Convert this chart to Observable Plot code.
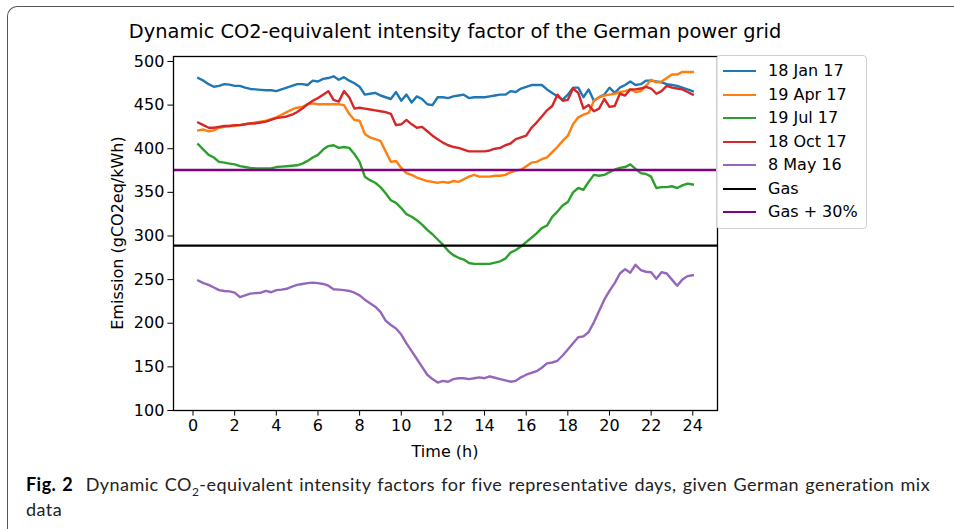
<!DOCTYPE html>
<html>
<head>
<meta charset="utf-8">
<script src="https://cdn.jsdelivr.net/npm/d3@7"></script>
<script src="https://cdn.jsdelivr.net/npm/@observablehq/plot@0.6"></script>
<style>
  html, body { margin: 0; padding: 0; background: white; }
  #wrap { position: relative; width: 954px; height: 529px; overflow: hidden; background: white; }
  #frame { position: absolute; left: 7px; top: 6px; width: 1200px; height: 800px;
           border-top: 1.5px solid #555; border-left: 1.5px solid #555; border-top-left-radius: 10px; }
  #chart { position: absolute; left: 0; top: 0; }
  .lbl { position: absolute; font-family: "DejaVu Sans", sans-serif; color: #000; white-space: nowrap; }
  #title { left: 55px; width: 800px; top: 21px; text-align: center; font-size: 19.4px; line-height: 22px; }
  #ylab { left: 118px; top: 233px; font-size: 16px; line-height: 18px; transform: translate(-50%, -50%) rotate(-90deg); }
  #xlab { left: 445px; top: 452px; font-size: 16px; line-height: 18px; transform: translate(-50%, -50%); }
  #legend { position: absolute; left: 716px; top: 55px; width: 149px; height: 172px;
            border: 1px solid #d0d0d0; border-radius: 4px; background: rgba(255,255,255,0.9); }
  .row { position: absolute; left: 0; height: 20px; width: 149px; }
  .sw { position: absolute; left: 6px; top: 9px; width: 33px; height: 2.4px; }
  .tx { position: absolute; left: 51px; top: 0; font-family: "DejaVu Sans", sans-serif; font-size: 16px; line-height: 20px; white-space: nowrap; }
  #caption { position: absolute; left: 26px; top: 472px; font-family: Lato, "Open Sans", sans-serif; font-size: 18px; line-height: 25px; color: #222; white-space: nowrap; letter-spacing: 0.45px; word-spacing: 1.2px; }
  #caption b { color: #000; }
</style>
</head>
<body>
<div id="wrap">
  <div id="frame"></div>
  <div id="chart"></div>
  <div id="title" class="lbl">Dynamic CO2-equivalent intensity factor of the German power grid</div>
  <div id="ylab" class="lbl">Emission (gCO2eq/kWh)</div>
  <div id="xlab" class="lbl">Time (h)</div>
  <div id="legend"></div>
  <div id="caption"><b>Fig. 2</b>&nbsp; Dynamic CO<sub style="font-size:12px;line-height:0">2</sub>-equivalent intensity factors for five representative days, given German generation mix<br>data</div>
</div>
<script>
// Time of day (h), quarter-hour resolution
const hours = [0.25,0.5,0.75,1,1.25,1.5,1.75,2,2.25,2.5,2.75,3,3.25,3.5,3.75,4,
  4.25,4.5,4.75,5,5.25,5.5,5.75,6,6.25,6.5,6.75,7,7.25,7.5,7.75,8,
  8.25,8.5,8.75,9,9.25,9.5,9.75,10,10.25,10.5,10.75,11,11.25,11.5,11.75,12,
  12.25,12.5,12.75,13,13.25,13.5,13.75,14,14.25,14.5,14.75,15,15.25,15.5,15.75,16,
  16.25,16.5,16.75,17,17.25,17.5,17.75,18,18.25,18.5,18.75,19,19.25,19.5,19.75,20,
  20.25,20.5,20.75,21,21.25,21.5,21.75,22,22.25,22.5,22.75,23,23.25,23.5,23.75,24];

const jan17 = [481,478,474,471, 472,474,473.5,472, 472,470,468.5,468, 467.5,467,467,466,
  468,470,472,474, 474,473,478,477, 480,481,483,479, 482,478,475,471,
  462,463,464,461, 459,457,465,455, 462,453,460,457, 451,450,459,459,
  458,460,461,462, 458,459,459,459, 460,461,462,462, 466,465,469,471,
  473,473,473,468, 464,460,456,462, 470,470,459,468, 455,459,462,470,
  464,470,473,477, 473,474,478,478, 477,476,474,473, 472,470,468,466];

const apr17 = [421,422,420,421, 424,425,426,426, 427,428,429,430, 431,432,434,436,
  439,442,445,447, 448,451,452,451, 451,451,451,451, 450,440,433,432,
  417,413,411,409, 397,385,386,378, 372,370,367,365, 363,362,361,362,
  361,363,362,365, 368,370,368,368, 368,369,369,370, 373,375,376,380,
  384,385,388,390, 396,402,409,415, 428,436,439,441, 455,459,461,462,
  463,465,466,468, 465,466,472,479, 476,477,481,485, 485,488,488,488];

const jul17 = [405,399,393,390, 385,384,383,382, 380,379,378,377.5, 377.5,377.5,377.5,379,
  379.5,380,380.5,381, 383,386,390,393, 399,403,404,401, 402,401,394,385,
  368,364,361,356, 349,341,338,332, 325,322,318,313, 307,302,296,290,
  283,278,275,273, 269,268,268,268, 268,269.5,271,274, 281,284,288,293,
  298,303,309,312, 322,328,335,339, 350,355,353,362, 370,369,370,373,
  376,378,379,382, 377,372,371,368, 355,356,356,357, 355,358,360,359];

const oct17 = [430,427,424,424, 425,426,426,427, 427,428,429,429, 430,431,433,435,
  436,437,439,442, 446,451,455,458, 462,466,456,454, 466,459,446,447,
  446,445,444,443, 442,440,427,428, 433,428,424,425, 420,415,411,407,
  404,402,401,399, 397,397,397,397, 398,400,401,404, 406,411,413,415,
  424,430,437,444, 449,462,455,456, 469,464,446,450, 443,446,457,448,
  449,463,461,468, 468,469,471,469, 463,466,472,470, 469,468,465,462];

const may16 = [249,246,244,241, 238,237,236.5,235, 230,232,234,234.5, 235,237,235.5,238,
  238.5,239.5,242,244, 245,246,246.5,246, 245,243,239,238.5, 238,237,235,232,
  227,223,219,213, 203,198,194,187, 177,168,159,150, 141,136,132,134,
  133,136,137,137, 136,137,138,137, 139,137.5,136,134.5, 133,134,138,141,
  143,145,149,154, 155,157,163,170, 177,184,185,190, 201,214,227,237,
  246,257,262,258, 267,261,259,258.5, 251,258.5,257,250, 243,250,254,255];

const gas = 289;
const gasPlus30 = 375.7;

const seriesNames = ["18 Jan 17","19 Apr 17","19 Jul 17","18 Oct 17","8 May 16"];
const seriesValues = [jan17, apr17, jul17, oct17, may16];
const seriesColors = ["#1f77b4","#ff7f0e","#2ca02c","#d62728","#9467bd"];
const refNames = ["Gas","Gas + 30%"];
const refColors = ["#000000","#800080"];
const xTicks = [0,2,4,6,8,10,12,14,16,18,20,22,24];
const yTicks = [100,150,200,250,300,350,400,450,500];

const rows = [];
seriesNames.forEach((name, i) => {
  hours.forEach((h, j) => rows.push({series: name, t: h, v: seriesValues[i][j]}));
});

const chart = Plot.plot({
  width: 954,
  height: 470,
  marginLeft: 173,
  marginRight: 237,
  marginTop: 56,
  marginBottom: 60,
  style: {fontFamily: "DejaVu Sans, sans-serif", fontSize: "16px", color: "#000", background: "transparent", overflow: "visible"},
  x: {domain: [-0.9375, 25.1875], ticks: xTicks, tickSize: 5.6, tickPadding: 3.5, label: null},
  y: {domain: [100, 505.7], ticks: yTicks, tickSize: 5.6, tickPadding: 3.5, label: null},
  color: {domain: seriesNames, range: seriesColors},
  marks: [
    Plot.line(rows, {x: "t", y: "v", z: "series", stroke: "series", strokeWidth: 2.4, strokeLinejoin: "round", strokeLinecap: "square"}),
    Plot.ruleY([gas], {stroke: refColors[0], strokeWidth: 2.4}),
    Plot.ruleY([gasPlus30], {stroke: refColors[1], strokeWidth: 2.4}),
    Plot.frame({stroke: "#000", strokeWidth: 1.3})
  ]
});
document.getElementById("chart").appendChild(chart);

// legend
const leg = document.getElementById("legend");
const allNames = seriesNames.concat(refNames);
const allColors = seriesColors.concat(refColors);
allNames.forEach((n, i) => {
  const r = document.createElement("div");
  r.className = "row";
  r.style.top = (5 + i * 23.5) + "px";
  const s = document.createElement("div");
  s.className = "sw";
  s.style.background = allColors[i];
  const t = document.createElement("div");
  t.className = "tx";
  t.textContent = n;
  r.appendChild(s); r.appendChild(t);
  leg.appendChild(r);
});
</script>
</body>
</html>
